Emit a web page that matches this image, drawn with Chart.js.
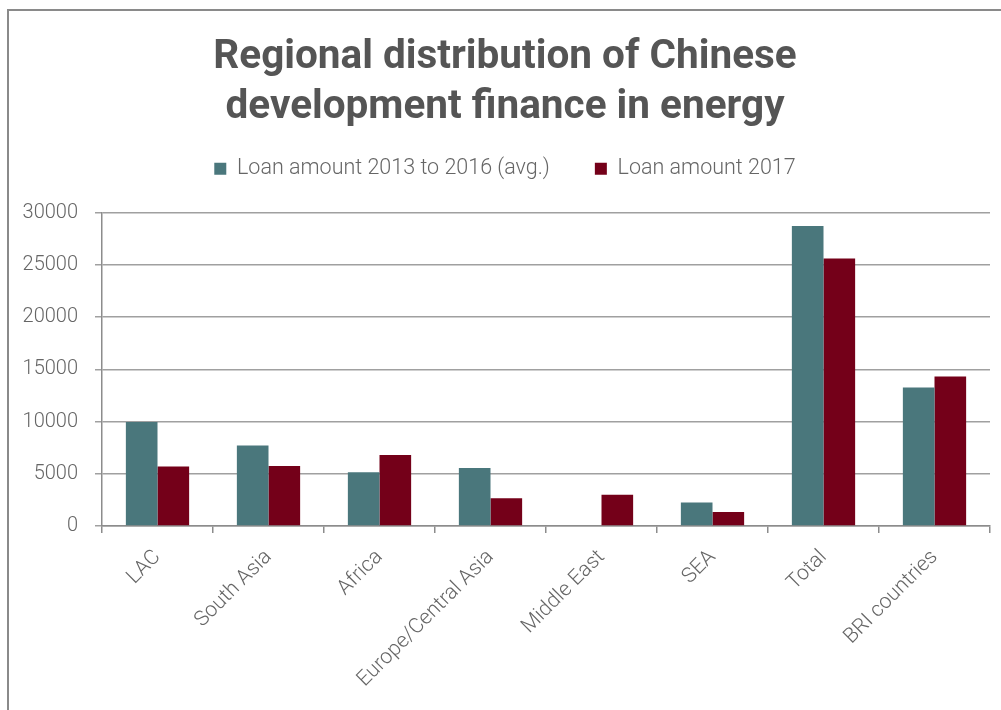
<!DOCTYPE html>
<html>
<head>
<meta charset="utf-8">
<script src="https://cdn.jsdelivr.net/npm/chart.js@4"></script>
<style>
  html, body { margin: 0; padding: 0; background: #fff; overflow: hidden; }
  #frame { position: absolute; left: 7px; top: 9px; width: 1100px; height: 800px;
           border-left: 2px solid #8a8a8a; border-top: 2px solid #8a8a8a; }
  #wrap { position: absolute; left: 20px; top: 0; width: 1001px; height: 710px; }
</style>
</head>
<body>
<div id="frame"></div>
<div id="wrap"><canvas id="chart" width="1001" height="710"></canvas></div>
<script>
// === ДАННЫЕ ===
const categories = ['LAC', 'South Asia', 'Africa', 'Europe/Central Asia', 'Middle East', 'SEA', 'Total', 'BRI countries'];
const loanAvg = [9950, 7700, 5150, 5550, 0, 2250, 28700, 13250];
const loan2017 = [5700, 5750, 6800, 2650, 3000, 1350, 25600, 14300];
const yTicks = [0, 5000, 10000, 15000, 20000, 25000, 30000];

const textGray = '#666666';
const axisGray = '#8c8c8c';
const gridGray = '#a0a0a0';

// сдвигаем область графика ниже легенды
const legendSpacing = {
  id: 'legendSpacing',
  beforeInit(chart) {
    const fit = chart.legend.fit;
    chart.legend.fit = function () {
      fit.call(this);
      this.height += 23;
    };
  }
};

new Chart(document.getElementById('chart'), {
  type: 'bar',
  data: {
    labels: categories,
    datasets: [
      { label: 'Loan amount 2013 to 2016 (avg.)', data: loanAvg, backgroundColor: '#4a777c' },
      { label: 'Loan amount 2017', data: loan2017, backgroundColor: '#740019' }
    ]
  },
  options: {
    responsive: false,
    devicePixelRatio: 1,
    animation: false,
    categoryPercentage: 0.57,
    barPercentage: 1.0,
    // холст сдвинут на 20px вправо: область графика 102..990
    layout: { padding: { left: 0, right: 31, top: 0, bottom: 0 } },
    plugins: {
      title: {
        display: true,
        text: ['Regional distribution of Chinese', 'development finance in energy'],
        color: '#555555',
        font: { family: 'Roboto', size: 40.5, weight: 'bold', lineHeight: 50 / 40.5 },
        padding: { top: 33, bottom: -20 }
      },
      legend: {
        display: true,
        position: 'top',
        labels: {
          color: textGray,
          boxWidth: 12,
          boxHeight: 12,
          padding: 45,
          font: { family: 'Roboto', size: 21.5, weight: '300' }
        }
      },
      tooltip: { enabled: false }
    },
    scales: {
      x: {
        afterFit(scale) { scale.height = 184; },
        grid: {
          offset: true,
          drawOnChartArea: false,
          drawTicks: true,
          tickLength: 7,
          color: axisGray,
          lineWidth: 1.5
        },
        border: { display: true, color: axisGray, width: 1.5 },
        ticks: {
          color: textGray,
          minRotation: 45,
          maxRotation: 45,
          autoSkip: false,
          padding: 12,
          font: { family: 'Roboto', size: 21, weight: '300' }
        }
      },
      y: {
        min: 0,
        max: 30000,
        afterFit(scale) { scale.width = 82; },
        afterBuildTicks(scale) { scale.ticks = yTicks.map(v => ({ value: v })); },
        grid: {
          color: gridGray,
          lineWidth: 1.5,
          drawTicks: true,
          tickLength: 7
        },
        border: { display: true, color: axisGray, width: 1.5 },
        ticks: {
          color: textGray,
          padding: 17,
          callback: v => String(v),
          font: { family: 'Roboto', size: 20, weight: '300' }
        }
      }
    }
  },
  plugins: [legendSpacing]
});
</script>
</body>
</html>
